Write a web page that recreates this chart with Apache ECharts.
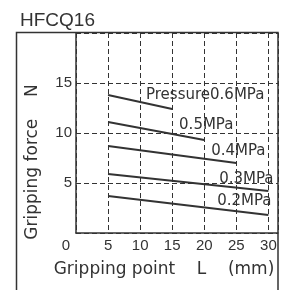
<!DOCTYPE html>
<html><head><meta charset="utf-8">
<script src="https://cdn.jsdelivr.net/npm/echarts@6/dist/echarts.min.js"></script>
<style>html,body{margin:0;padding:0;background:#fff}#c{width:290px;height:290px}</style>
</head><body><div id="c"></div>
<script>
const titleText = 'HFCQ16';
const xName = 'Gripping point    L    (mm)';
const yName = 'Gripping force    N';
const xTickValues = [0, 5, 10, 15, 20, 25, 30];
const yTickValues = [5, 10, 15];
const seriesNames = ['Pressure0.6MPa', '0.5MPa', '0.4MPa', '0.3MPa', '0.2MPa'];
const p06 = [[5, 13.8], [15, 12.4]];
const p05 = [[5, 11.1], [20, 9.3]];
const p04 = [[5, 8.7], [25, 7.0]];
const p03 = [[5, 5.9], [30, 4.2]];
const p02 = [[5, 3.7], [30, 1.8]];
const seriesData = [p06, p05, p04, p03, p02];

const labelOffsets = [[33, -14], [2, -15], [2, -12], [-22, -12], [-24, -14]];
const FONT = 'Liberation Sans';
const WIDE = 'DejaVu Sans';
const INK = '#333';

const chart = echarts.init(document.getElementById('c'), null, {renderer: 'canvas'});
chart.setOption({
  animation: false,
  backgroundColor: '#fff',
  title: {text: titleText, left: 15, top: 6, textStyle: {fontSize: 19, fontWeight: 'normal', color: INK, fontFamily: FONT}},
  grid: {left: 76, right: 12, top: 33, bottom: 57},
  xAxis: {
    type: 'value', min: 0, max: 31.5, interval: 5,
    name: xName, nameLocation: 'middle', nameGap: 28,
    nameTextStyle: {fontSize: 17, color: INK, fontFamily: WIDE, padding: [0, 26, 0, 0]},
    axisLine: {show: true, lineStyle: {color: INK, width: 1.5}},
    axisTick: {show: false},
    axisLabel: {
      margin: 5, fontSize: 15, color: INK, fontFamily: FONT,
      formatter: v => xTickValues.indexOf(v) < 0 ? '' : (v === 0 ? '{z|0}' : String(v)),
      rich: {z: {fontSize: 15, color: INK, fontFamily: FONT, padding: [0, 20, 0, 0]}}
    },
    splitLine: {show: true, lineStyle: {color: INK, width: 1, type: [5, 3]}}
  },
  yAxis: {
    type: 'value', min: 0, max: 20, interval: 5,
    name: yName, nameLocation: 'middle', nameGap: 35, nameRotate: 90,
    nameTextStyle: {fontSize: 17, color: INK, fontFamily: WIDE, padding: [0, 58, 0, 0]},
    axisLine: {show: true, lineStyle: {color: INK, width: 1.5}},
    axisTick: {show: false},
    axisLabel: {
      margin: 4, fontSize: 15, color: INK, fontFamily: FONT,
      formatter: v => yTickValues.indexOf(v) < 0 ? '' : String(v)
    },
    splitLine: {show: true, lineStyle: {color: INK, width: 1, type: [5, 3]}}
  },
  graphic: [{
    type: 'rect', z: 100, silent: true,
    shape: {x: 16.5, y: 32.5, width: 261.5, height: 300},
    style: {fill: 'transparent', stroke: INK, lineWidth: 1.5}
  }],
  series: seriesData.map((arr, si) => ({
    type: 'line', name: seriesNames[si],
    showSymbol: true, symbol: 'circle', symbolSize: 0.01,
    lineStyle: {color: INK, width: 2},
    itemStyle: {color: INK},
    label: {show: false},
    data: arr.map((d, i) => i === arr.length - 1 ? {
      value: d,
      label: {show: true, position: 'inside', offset: labelOffsets[si], formatter: seriesNames[si],
        fontSize: 15, color: INK, fontFamily: WIDE, backgroundColor: 'transparent'}
    } : d)
  }))
});
</script></body></html>
